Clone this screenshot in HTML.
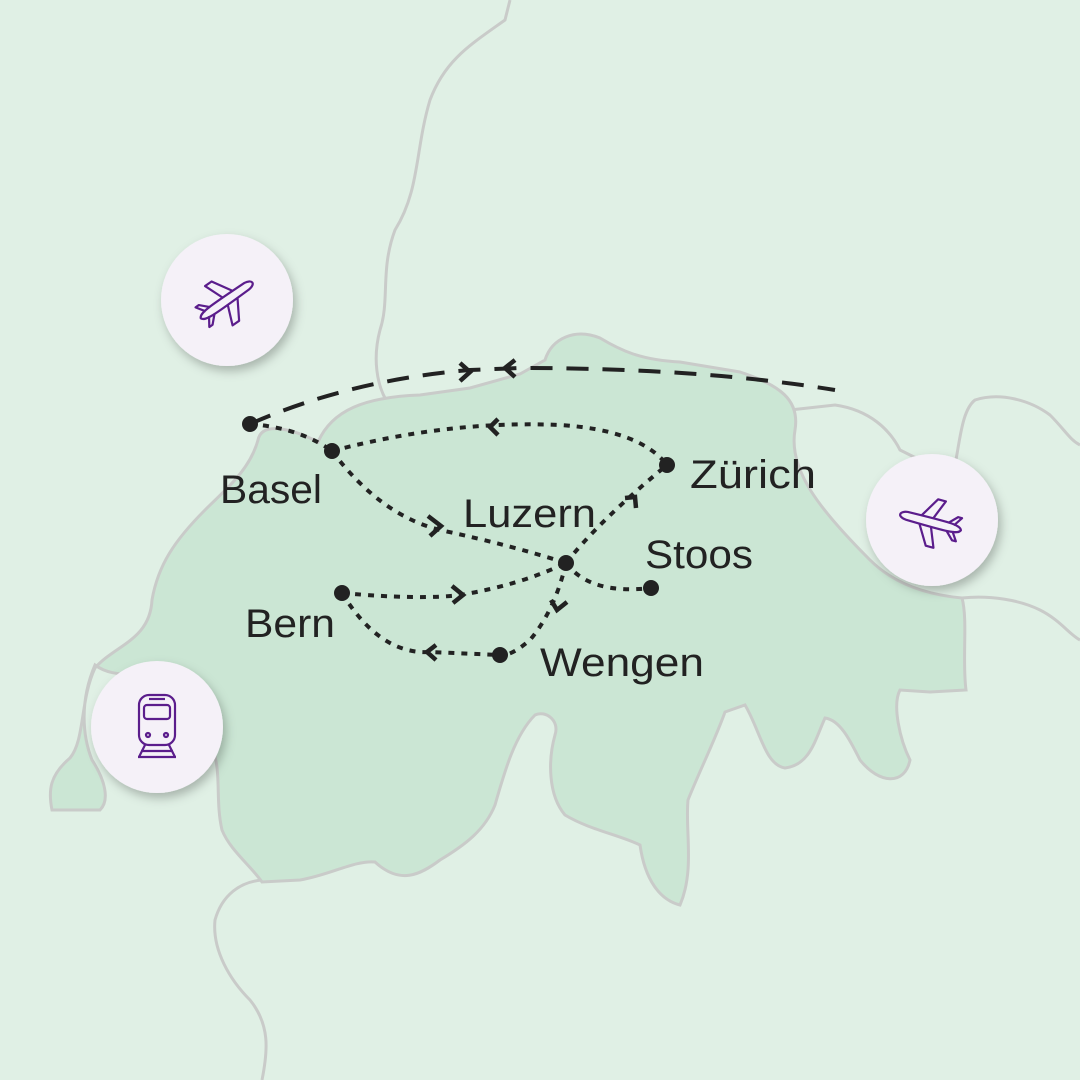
<!DOCTYPE html>
<html><head><meta charset="utf-8"><style>html,body{margin:0;padding:0;background:#e0f0e5}svg{display:block}</style></head><body>
<svg width="1080" height="1080" viewBox="0 0 1080 1080" xmlns="http://www.w3.org/2000/svg">
<defs><filter id="sh" x="-30%" y="-30%" width="160%" height="160%"><feDropShadow dx="3" dy="5" stdDeviation="5" flood-color="#000" flood-opacity="0.25"/></filter></defs>
<rect width="1080" height="1080" fill="#e0f0e5"/>
<g fill="none" stroke="#c9cbc9" stroke-width="3">
<path d="M510 0 L505 20 C470 45 445 60 430 100 C415 150 420 190 395 230 C380 270 390 300 380 330 C372 360 378 385 385 398"/>
<path d="M790 410 L835 405 C870 410 890 430 900 450 L930 465"/>
<path d="M955 465 C960 440 962 410 975 400 C1000 392 1030 400 1050 415 C1065 430 1070 440 1080 445"/>
<path d="M962 598 C990 595 1020 600 1040 610 C1060 620 1070 635 1080 640"/>
<path d="M262 880 C240 882 222 895 215 920 C212 950 230 980 250 1000 C270 1025 268 1050 262 1080"/>
</g>
<path fill="#cbe6d4" stroke="#c9cbc9" stroke-width="3" d="M258 440 C262 420 295 430 318 442 C332 410 365 397 420 395 L470 388 L520 374 L545 360 C552 338 575 328 600 338 C620 350 640 360 680 362 L740 372 C780 385 800 400 795 430 C788 470 820 510 870 560 C895 585 930 595 962 598 C968 620 962 660 966 690 L930 692 L900 690 C892 705 900 740 910 760 C905 785 880 785 860 760 C850 740 840 720 825 718 C815 740 810 765 785 768 C765 765 760 730 745 705 L725 712 C715 740 700 770 688 800 C685 830 695 870 680 905 C660 900 645 880 640 845 C620 835 590 830 565 815 C548 795 548 760 555 735 C560 720 545 710 535 715 C515 735 505 770 495 805 C485 830 465 845 440 860 C420 875 400 885 375 862 C355 860 330 875 300 880 L262 882 C250 865 230 850 222 830 C215 800 222 770 212 748 C200 730 175 700 160 680 C140 670 115 680 95 665 C80 700 82 735 92 760 C105 780 110 800 100 810 L52 810 C48 790 50 775 70 758 C85 740 80 700 95 668 C115 645 150 640 152 600 C158 565 175 540 205 510 C225 490 250 470 258 440 Z"/>
<g fill="none" stroke="#222" stroke-width="4">
<path d="M250 424 Q350 380 470 370 L520 368 Q700 368 835 390" stroke-dasharray="22 14"/>
<g stroke-dasharray="6 7">
<path d="M250 424 Q300 428 332 451"/>
<path d="M332 451 Q450 420 560 425 Q640 430 667 465"/>
<path d="M332 451 Q380 515 440 530 Q510 545 566 563"/>
<path d="M566 563 Q600 520 667 465"/>
<path d="M566 563 Q590 595 651 588"/>
<path d="M342 593 Q420 600 460 595 Q520 585 566 563"/>
<path d="M566 563 Q555 610 530 640 Q510 657 500 655"/>
<path d="M342 593 Q380 655 430 652 L500 655"/>
</g>
<g stroke-width="4.5">
<path d="M460 363 L470 372 L460 381"/>
<path d="M515 360 L505 368 L515 377"/>
<path d="M498 419 L490 427 L498 435"/>
<path d="M428 516 L441 526 L430 536"/>
<path d="M625 498 L635 497 L636 508"/>
<path d="M452 586 L463 595 L453 603"/>
<path d="M551 600 L557 610 L567 602"/>
<path d="M436 645 L427 652 L436 660"/>
</g>
</g>
<g fill="#222">
<circle cx="250" cy="424" r="8"/><circle cx="332" cy="451" r="8"/><circle cx="667" cy="465" r="8"/>
<circle cx="566" cy="563" r="8"/><circle cx="651" cy="588" r="8"/><circle cx="342" cy="593" r="8"/><circle cx="500" cy="655" r="8"/>
</g>
<g font-family="Liberation Sans, sans-serif" font-size="40" fill="#222">
<text x="220" y="503" textLength="102" lengthAdjust="spacingAndGlyphs">Basel</text>
<text x="690" y="488" textLength="126" lengthAdjust="spacingAndGlyphs">Zürich</text>
<text x="463" y="527" textLength="133" lengthAdjust="spacingAndGlyphs">Luzern</text>
<text x="645" y="568" textLength="108" lengthAdjust="spacingAndGlyphs">Stoos</text>
<text x="245" y="637" textLength="90" lengthAdjust="spacingAndGlyphs">Bern</text>
<text x="540" y="676" textLength="164" lengthAdjust="spacingAndGlyphs">Wengen</text>
</g>
<g fill="#f5f1f8" filter="url(#sh)">
<circle cx="227" cy="300" r="66"/><circle cx="932" cy="520" r="66"/><circle cx="157" cy="727" r="66"/>
</g>
<g fill="none" stroke="#5b1d8c" stroke-width="2.2" stroke-linejoin="round">
<g transform="translate(227,300) rotate(-35)">
<path d="M-32 0 C-30 -5 -20 -5 24 -4 C32 -3 34 3 24 4 C-20 5 -30 5 -32 0 Z"/>
<path d="M-2 -4 L-10 -24 L-2 -24 L10 -4"/><path d="M-2 4 L-10 24 L-2 24 L10 4"/>
<path d="M-24 -3 L-30 -12 L-26 -12 L-18 -4"/><path d="M-24 3 L-30 12 L-26 12 L-18 4"/>
</g>
<g transform="translate(930,522) rotate(15)">
<path d="M-32 0 C-30 -5 -20 -5 24 -4 C32 -3 34 3 24 4 C-20 5 -30 5 -32 0 Z" transform="scale(-1,1)"/>
<path d="M2 -4 L10 -24 L2 -24 L-10 -4"/><path d="M2 4 L10 24 L2 24 L-10 4"/>
<path d="M24 -3 L30 -12 L26 -12 L18 -4"/><path d="M24 3 L30 12 L26 12 L18 4"/>
</g>
<g transform="translate(157,727)">
<rect x="-18" y="-32" width="36" height="50" rx="10"/>
<rect x="-13" y="-22" width="26" height="14" rx="3"/>
<line x1="-8" y1="-28" x2="8" y2="-28"/>
<circle cx="-9" cy="8" r="2"/><circle cx="9" cy="8" r="2"/>
<path d="M-12 18 L-18 30 M12 18 L18 30 M-16 24 L16 24 M-19 30 L19 30"/>
</g>
</g>
</svg>
</body></html>
